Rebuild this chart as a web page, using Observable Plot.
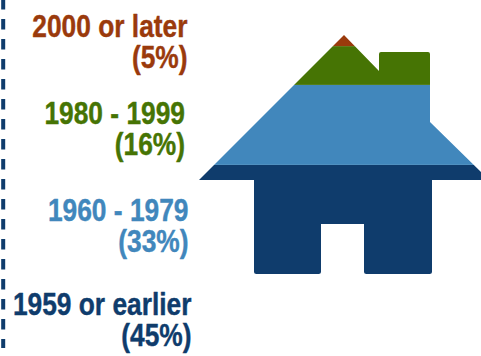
<!DOCTYPE html>
<html>
<head>
<meta charset="utf-8">
<script src="https://cdn.jsdelivr.net/npm/d3@7"></script>
<script src="https://cdn.jsdelivr.net/npm/@observablehq/plot@0.6"></script>
<style>html,body{margin:0;padding:0;background:#fff}svg{display:block}</style>
</head>
<body>
<div id="chart"></div>
<script>
// Data, bottom of the house first
const periods = ["1959 or earlier", "1960 - 1979", "1980 - 1999", "2000 or later"];
const shares = [45, 33, 16, 5];
const colors = ["#0f3c6c", "#4187bc", "#467404", "#9a3a0c"];

// House silhouette: x, share height, corner radius
const outline = [
  [344, 98.6, 0], [379, 83.7, 0], [379, 91.6, 2], [430, 91.6, 2], [430, 62.7, 0],
  [489, 38.8, 0], [432, 38.8, 0], [432, 0, 2.5], [364, 0, 2.5], [364, 20.6, 0],
  [321, 20.6, 0], [321, 0, 2.5], [254, 0, 2.5], [254, 38.8, 0], [199, 38.8, 0]
];

// Label layout
const labelX = [191, 188, 184.5, 187];
const labelY = [-29.4, 9.1, 49.1, 85.1];
const railX = 2.7;
const railTop = 113.4;
const railBottom = -30.5;
const narrow = 0.85;

const rows = periods.map((p, i) => ({
  period: p, share: shares[i], color: colors[i],
  text: `${p}\n(${shares[i]}%)`, lx: labelX[i], ly: labelY[i]
}));

const clipHouse = (index, scales, values, dims, context, next) => {
  const g = next(index, scales, values, dims, context);
  const ns = "http://www.w3.org/2000/svg";
  const pts = outline.map(([x, y, r]) => [scales.x(x), scales.y(y), r]);
  const p = d3.path();
  const n = pts.length;
  p.moveTo(pts[0][0], pts[0][1]);
  for (let i = 1; i <= n; i++) {
    const a = pts[i % n], b = pts[(i + 1) % n];
    if (a[2]) p.arcTo(a[0], a[1], b[0], b[1], a[2]);
    else p.lineTo(a[0], a[1]);
  }
  p.closePath();
  const cp = document.createElementNS(ns, "clipPath");
  cp.setAttribute("id", "house-clip");
  const path = document.createElementNS(ns, "path");
  path.setAttribute("d", p.toString());
  cp.appendChild(path);
  g.appendChild(cp);
  g.setAttribute("clip-path", "url(#house-clip)");
  return g;
};

const squeeze = (index, scales, values, dims, context, next) => {
  const g = next(index, scales, values, dims, context);
  g.querySelectorAll("text").forEach(t => {
    const tr = t.getAttribute("transform") || "";
    t.setAttribute("transform", `${tr} scale(${narrow},1)`);
  });
  return g;
};

const chart = Plot.plot({
  width: 481,
  height: 356,
  margin: 0,
  style: {background: "transparent", overflow: "hidden"},
  x: {domain: [0, 481], range: [0, 481], axis: null},
  y: {domain: [0, 99], range: [274, 34], axis: null},
  marks: [
    Plot.ruleX([railX], {
      y1: railTop, y2: railBottom,
      stroke: colors[0], strokeWidth: 4, strokeDasharray: "10.3 9.7"
    }),
    Plot.rectY(rows, Plot.stackY({
      x1: 190, x2: 490, y: "share", fill: d => d.color, order: null,
      render: clipHouse
    })),
    Plot.text(rows, {
      x: "lx", y: "ly", text: "text", fill: d => d.color,
      stroke: d => d.color, strokeWidth: 0.4,
      textAnchor: "end", lineAnchor: "bottom", lineHeight: 1,
      fontFamily: "'Liberation Sans', sans-serif",
      fontWeight: 700, fontSize: 31,
      render: squeeze
    })
  ]
});
document.getElementById("chart").appendChild(chart);
</script>
</body>
</html>
